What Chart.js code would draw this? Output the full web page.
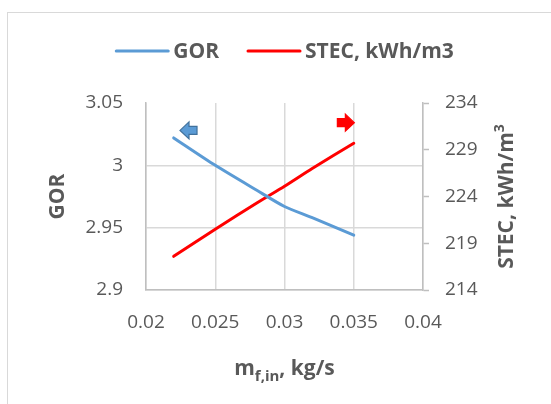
<!DOCTYPE html>
<html>
<head>
<meta charset="utf-8">
<script src="https://cdn.jsdelivr.net/npm/chart.js@4/dist/chart.umd.min.js"></script>
<style>
  html, body { margin: 0; padding: 0; background: #fff; }
  #wrap { position: relative; width: 551px; height: 404px; overflow: hidden; }
  #frame { position: absolute; left: 7px; top: 12px; width: 600px; height: 500px;
           border-left: 1px solid #d9d9d9; border-top: 1px solid #d9d9d9; }
  #chart { position: absolute; left: 0; top: 0; }
</style>
</head>
<body>
<div id="wrap">
  <div id="frame"></div>
  <canvas id="chart" width="551" height="404"></canvas>
</div>
<script>
// values
const massFlow = [0.022, 0.025, 0.028, 0.030, 0.032, 0.035];
const gorValues = [3.022, 3.000, 2.980, 2.967, 2.958, 2.944];
const stecValues = [217.6, 220.5, 223.3, 225.1, 227.0, 229.7];

const xTicks = [0.02, 0.025, 0.03, 0.035, 0.04];
const gorTicks = [2.9, 2.95, 3, 3.05];
const stecTicks = [214, 219, 224, 229, 234];

// arrow markers, in data units [x, y]
const gorArrow = [0.02307, 3.028];
const stecArrow = [0.03443, 231.9];

const BLUE = '#5B9BD5';
const RED = '#FF0000';
const TEXT = '#595959';
const GRID = '#d9d9d9';
const AXIS = '#bfbfbf';
const FONT = '"Open Sans", "DejaVu Sans", sans-serif';

const toPoints = (ys) => massFlow.map((x, i) => ({ x, y: ys[i] }));
const fixedTicks = (list) => (scale) => { scale.ticks = list.map(v => ({ value: v })); };

function drawArrow(ctx, cx, cy, dir, fill, stroke) {
    const len = 17, headLen = 9, headH = 17, shaftH = 8;
    const tail = cx - dir * len / 2;
    const tip = cx + dir * len / 2;
    const base = tip - dir * headLen;
    ctx.save();
    ctx.beginPath();
    ctx.moveTo(tail, cy - shaftH / 2);
    ctx.lineTo(base, cy - shaftH / 2);
    ctx.lineTo(base, cy - headH / 2);
    ctx.lineTo(tip, cy);
    ctx.lineTo(base, cy + headH / 2);
    ctx.lineTo(base, cy + shaftH / 2);
    ctx.lineTo(tail, cy + shaftH / 2);
    ctx.closePath();
    ctx.fillStyle = fill;
    ctx.fill();
    ctx.lineWidth = 1.2;
    ctx.strokeStyle = stroke;
    ctx.stroke();
    ctx.restore();
}

// draws runs of [text, sizePx, baselineShift] left to right, returns total width
function runsWidth(ctx, runs) {
    return runs.reduce((w, r) => {
        ctx.font = `bold ${r[1]}px ${FONT}`;
        return w + ctx.measureText(r[0]).width;
    }, 0);
}
function drawRuns(ctx, runs, x, y) {
    runs.forEach(r => {
        ctx.font = `bold ${r[1]}px ${FONT}`;
        ctx.fillText(r[0], x, y + r[2]);
        x += ctx.measureText(r[0]).width;
    });
}

const overlay = {
    id: 'overlay',
    afterDatasetsDraw(chart) {
        const { ctx, scales } = chart;
        drawArrow(ctx, scales.x.getPixelForValue(gorArrow[0]), scales.y.getPixelForValue(gorArrow[1]), -1, BLUE, '#41719C');
        drawArrow(ctx, scales.x.getPixelForValue(stecArrow[0]), scales.y1.getPixelForValue(stecArrow[1]), 1, RED, RED);
    },
    afterDraw(chart) {
        const { ctx, chartArea } = chart;
        const midX = (chartArea.left + chartArea.right) / 2;
        const midY = (chartArea.top + chartArea.bottom) / 2;
        ctx.save();
        ctx.fillStyle = TEXT;
        ctx.textBaseline = 'alphabetic';
        ctx.textAlign = 'left';

        // legend
        const lineLen = 54, gap = 4, itemGap = 28, legendY = 51;
        ctx.font = `bold 21px ${FONT}`;
        const items = chart.data.datasets.map(ds => ({ label: ds.label, color: ds.borderColor, w: ctx.measureText(ds.label).width }));
        const total = items.reduce((s, it) => s + lineLen + gap + it.w, 0) + itemGap * (items.length - 1);
        let lx = midX - total / 2;
        items.forEach(it => {
            ctx.strokeStyle = it.color;
            ctx.lineWidth = 3;
            ctx.lineCap = 'round';
            ctx.beginPath();
            ctx.moveTo(lx + 1, legendY);
            ctx.lineTo(lx + lineLen - 1, legendY);
            ctx.stroke();
            ctx.textBaseline = 'middle';
            ctx.fillText(it.label, lx + lineLen + gap, legendY + 1);
            lx += lineLen + gap + it.w + itemGap;
        });
        ctx.textBaseline = 'alphabetic';

        // x axis title with subscript
        const xRuns = [['m', 21, 0], ['f,in', 15, 6], [', kg/s', 21, 0]];
        drawRuns(ctx, xRuns, midX - runsWidth(ctx, xRuns) / 2, 375);

        // left axis title
        const gRuns = [['GOR', 21, 0]];
        ctx.save();
        ctx.translate(chartArea.left - 82, midY);
        ctx.rotate(-Math.PI / 2);
        drawRuns(ctx, gRuns, -runsWidth(ctx, gRuns) / 2, 0);
        ctx.restore();

        // right axis title with superscript
        const sRuns = [['STEC, kWh/m', 21, 0], ['3', 14, -9]];
        ctx.save();
        ctx.translate(chartArea.right + 90, midY);
        ctx.rotate(-Math.PI / 2);
        drawRuns(ctx, sRuns, -runsWidth(ctx, sRuns) / 2, 0);
        ctx.restore();

        ctx.restore();
    }
};

const tickFont = { family: FONT, size: 19 };

new Chart(document.getElementById('chart'), {
    type: 'line',
    data: {
        datasets: [
            {
                label: 'GOR',
                data: toPoints(gorValues),
                yAxisID: 'y',
                borderColor: BLUE,
                backgroundColor: BLUE,
                borderWidth: 3,
                pointRadius: 0,
                tension: 0.25,
                borderCapStyle: 'round'
            },
            {
                label: 'STEC, kWh/m3',
                data: toPoints(stecValues),
                yAxisID: 'y1',
                borderColor: RED,
                backgroundColor: RED,
                borderWidth: 3,
                pointRadius: 0,
                tension: 0.25,
                borderCapStyle: 'round'
            }
        ]
    },
    options: {
        responsive: false,
        animation: false,
        layout: { padding: { top: 103 } },
        plugins: {
            legend: { display: false },
            tooltip: { enabled: false }
        },
        scales: {
            x: {
                type: 'linear',
                min: 0.02,
                max: 0.04,
                afterBuildTicks: fixedTicks(xTicks),
                afterFit: (s) => { s.height = 114; },
                grid: { color: GRID, lineWidth: 1.5, drawTicks: false },
                border: { color: AXIS, width: 1.5 },
                ticks: { font: tickFont, color: TEXT, padding: 21, maxRotation: 0, autoSkip: false, callback: (v) => String(v) }
            },
            y: {
                position: 'left',
                min: 2.9,
                max: 3.05,
                afterBuildTicks: fixedTicks(gorTicks),
                afterFit: (s) => { s.width = 146; },
                grid: {
                    color: (c) => (c.tick && c.tick.value === 3.05 ? 'rgba(0,0,0,0)' : GRID),
                    lineWidth: 1.5,
                    drawTicks: false
                },
                border: { color: AXIS, width: 1.5 },
                ticks: { font: tickFont, color: TEXT, padding: 23, callback: (v) => String(v) }
            },
            y1: {
                position: 'right',
                min: 214,
                max: 234,
                afterBuildTicks: fixedTicks(stecTicks),
                afterFit: (s) => { s.width = 128; },
                grid: { drawOnChartArea: false, tickLength: 6, tickColor: AXIS, tickWidth: 1.5 },
                border: { color: AXIS, width: 1.5 },
                ticks: { font: tickFont, color: TEXT, padding: 16, callback: (v) => String(v) }
            }
        }
    },
    plugins: [overlay]
});
</script>
</body>
</html>
